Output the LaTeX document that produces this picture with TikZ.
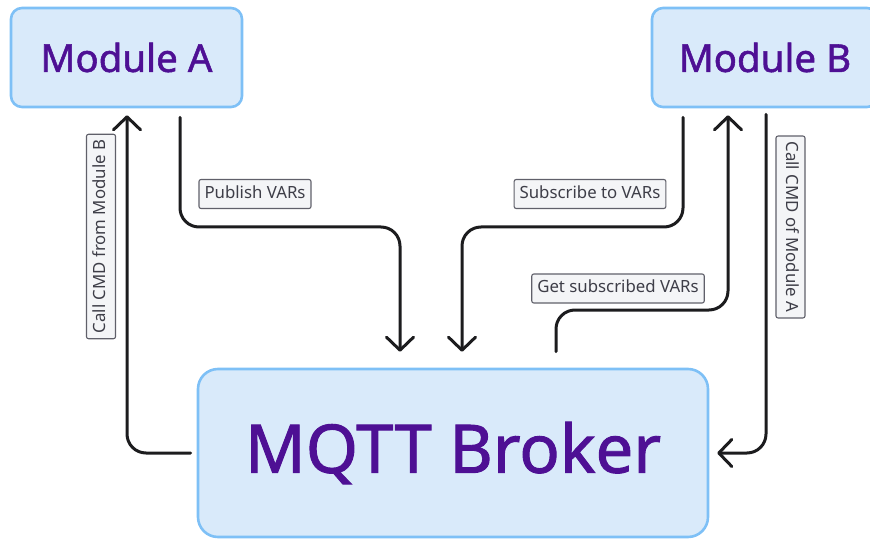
\documentclass[tikz,border=0pt]{standalone}
\usepackage{fontspec}
\setmainfont{Noto Sans}
\newfontfamily\titlefont[RawFeature={embolden=1.4}]{Noto Sans}
\usetikzlibrary{arrows.meta,calc}

\definecolor{boxfill}{RGB}{217,234,250}
\definecolor{boxline}{RGB}{126,192,246}
\definecolor{titleink}{RGB}{78,16,148}
\definecolor{wire}{RGB}{28,28,30}
\definecolor{tagfill}{RGB}{244,245,247}
\definecolor{tagline}{RGB}{96,96,106}
\definecolor{tagink}{RGB}{62,62,72}

\tikzset{
  module/.style={draw=boxline, fill=boxfill, line width=2.6pt, rounded corners=11pt,
    text=titleink, font=\titlefont\fontsize{38.5}{42}\selectfont, inner sep=0pt, anchor=center},
  broker/.style={module, rounded corners=20pt, font=\titlefont\fontsize{67}{72}\selectfont},
  flow/.style={draw=wire, line width=3pt, rounded corners=19pt, line cap=round,
    -{Straight Barb[length=13pt,width=27pt,round]}},
  tag/.style={draw=tagline, fill=tagfill, line width=1.1pt, rounded corners=2pt,
    text=tagink, font=\fontsize{16.8}{18}\selectfont, inner xsep=5.5pt, inner ysep=0pt,
    minimum height=29pt, text height=12pt, text depth=3.2pt},
}

\begin{document}
\begin{tikzpicture}[x=1pt, y=-1pt]
  \useasboundingbox (0,0) rectangle (870,540);
  \clip (0,0) rectangle (870,540);

  % the three parties
  \node[module, minimum width=231pt, minimum height=99pt] (ma) at (126.5,57.5) {Module A};
  \node[module, minimum width=226pt, minimum height=99pt] (mb) at (765,57.5) {Module B};
  \node[broker, minimum width=510pt, minimum height=168pt] (brk) at (453,453) {MQTT Broker};

  % anchor points of the wires
  \coordinate (pubS) at ($(ma.south)+(53.5,9)$);
  \coordinate (pubE) at ($(brk.north)+(-53,-16)$);
  \coordinate (subS) at ($(mb.south)+(-82,9)$);
  \coordinate (subE) at ($(brk.north)+(9,-16)$);
  \coordinate (getS) at ($(brk.north)+(103,-16)$);
  \coordinate (getE) at ($(mb.south)+(-37,7)$);
  \coordinate (cmdBS) at ($(brk.west)+(-6,0)$);
  \coordinate (cmdBE) at ($(ma.south)+(0.5,7)$);
  \coordinate (cmdAS) at ($(mb.south)+(1,6)$);
  \coordinate (cmdAE) at ($(brk.east)+(8,0)$);

  % wires
  \draw[flow] (cmdBS) -| (cmdBE);
  \draw[flow] (pubS) -- (pubS |- 0,227) -- (pubE |- 0,227) -- (pubE);
  \draw[flow] (subS) -- (subS |- 0,227) -- (subE |- 0,227) -- (subE);
  \draw[flow] (getS) -- (getS |- 0,310) -- (getE |- 0,310) -- (getE);
  \draw[flow] (cmdAS) |- (cmdAE);

  % wire labels
  \node[tag] (tpub) at (255,194) {Publish VARs};
  \node[tag] (tsub) at (590,194) {Subscribe to VARs};
  \node[tag] (tget) at (618,288.5) {Get subscribed VARs};
  \node[tag, rotate=90] (tcb) at (101,236.5) {Call CMD from Module B};
  \node[tag, rotate=-90] (tca) at (790.5,227) {Call CMD of Module A};
\end{tikzpicture}
\end{document}
